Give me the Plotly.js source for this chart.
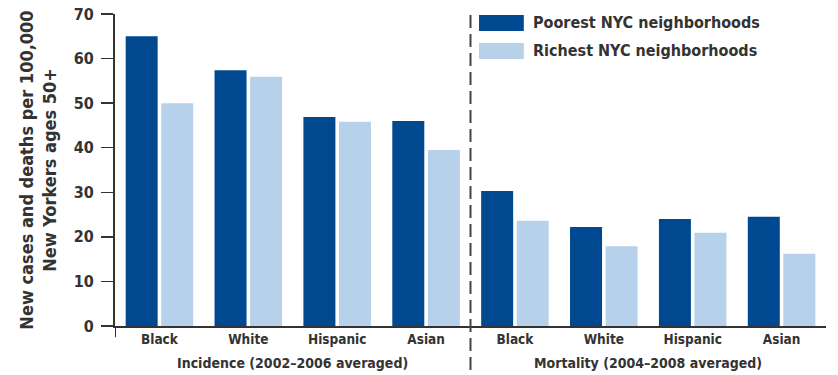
<!DOCTYPE html>
<html>
<head>
<meta charset="utf-8">
<script src="https://cdn.plot.ly/plotly-3.0.1.min.js"></script>
<style>html,body{margin:0;padding:0;background:#fff}</style>
</head>
<body>
<div id="chart" style="width:838px;height:375px"></div>
<script>
// Colorectal cancer rates by neighborhood income, NYC adults 50+
const measures = ["Incidence (2002–2006 averaged)", "Mortality (2004–2008 averaged)"];
const groups = ["Black", "White", "Hispanic", "Asian"];
const poorest = [65.0, 57.4, 46.9, 46.0, 30.3, 22.2, 24.0, 24.5];
const richest = [50.0, 55.9, 45.8, 39.5, 23.6, 17.9, 20.9, 16.2];
const seriesNames = ["Poorest NYC neighborhoods", "Richest NYC neighborhoods"];
const seriesColors = ["#004990", "#b7d1eb"];
const yTicks = [0, 10, 20, 30, 40, 50, 60, 70];

const FONT = "'Liberation Sans Narrow', 'DejaVu Sans Condensed', 'Roboto', sans-serif";
const INK = "#333333";

// one slot per (measure, group) pair
const pos = [];
const labels = [];
measures.forEach((m, mi) => groups.forEach((g, gi) => {
  pos.push(mi * groups.length + gi);
  labels.push("<b>" + g + "</b>");
}));
const nSlots = pos.length;
const bounds = [];
for (let i = 0; i <= nSlots; i++) bounds.push(i - 0.5);
const xRange = [-0.5, nSlots - 0.5];

const traces = [poorest, richest].map((vals, i) => ({
  type: "bar",
  x: pos,
  y: vals,
  name: seriesNames[i],
  marker: { color: seriesColors[i], line: { width: 0 } },
  hoverinfo: "y+name"
}));

// measure captions centred under each half, divider between halves
const annotations = measures.map((m, mi) => ({
  text: "<b>" + m + "</b>",
  x: mi * groups.length + (groups.length - 1) / 2,
  xref: "x", y: 0, yref: "paper",
  yshift: -37, yanchor: "middle", xanchor: "center",
  showarrow: false,
  font: { family: FONT, size: 14, color: INK }
}));

const shapes = [];
for (let mi = 1; mi < measures.length; mi++) {
  shapes.push({
    type: "line", xref: "x", yref: "paper",
    x0: mi * groups.length - 0.5, x1: mi * groups.length - 0.5,
    y0: -0.141, y1: 1.007,
    line: { color: "#444444", width: 2, dash: "13px,6px" }
  });
}
// y-axis line runs a little below the origin
shapes.push({
  type: "line", xref: "x", yref: "paper",
  x0: -0.5, x1: -0.5, y0: 0, y1: -0.036,
  line: { color: INK, width: 2 }
});

// legend: wide swatches with labels
const legendY = [[0.9455, 0.997], [0.856, 0.907]];
seriesNames.forEach((n, i) => {
  shapes.push({
    type: "rect", xref: "paper", yref: "paper",
    x0: 0.512, x1: 0.575, y0: legendY[i][0], y1: legendY[i][1],
    fillcolor: seriesColors[i], line: { width: 0 }
  });
  annotations.push({
    text: "<b>" + n + "</b>",
    xref: "paper", yref: "paper",
    x: 0.585, y: (legendY[i][0] + legendY[i][1]) / 2,
    xanchor: "left", yanchor: "middle", showarrow: false,
    font: { family: FONT, size: 16, color: INK }
  });
});

const layout = {
  width: 838, height: 375,
  margin: { l: 115, r: 12, t: 14, b: 49 },
  paper_bgcolor: "#ffffff", plot_bgcolor: "#ffffff",
  showlegend: false,
  barmode: "group", bargap: 0.2, bargroupgap: 0.1,
  font: { family: FONT, color: INK },
  xaxis: {
    range: xRange, tickmode: "array", tickvals: pos, ticktext: labels,
    ticks: "", showgrid: false, zeroline: false,
    showline: true, linecolor: INK, linewidth: 2,
    tickfont: { family: FONT, size: 13.5, color: INK },
    fixedrange: true
  },
  xaxis2: {
    overlaying: "x", anchor: "y", side: "bottom",
    range: xRange, tickmode: "array", tickvals: bounds,
    ticks: "outside", ticklen: 7, tickwidth: 2, tickcolor: INK,
    showticklabels: false, showgrid: false, zeroline: false, showline: false
  },
  yaxis: {
    range: [0, 70], tickmode: "array", tickvals: yTicks,
    ticktext: yTicks.map(v => "<b>" + v + "</b>"),
    ticks: "outside", ticklen: 12, tickwidth: 1.5, tickcolor: INK,
    showgrid: false, zeroline: false,
    showline: true, linecolor: INK, linewidth: 2,
    tickfont: { family: FONT, size: 16, color: INK },
    ticklabelstandoff: 4,
    title: {
      text: "<b>New cases and deaths per 100,000<br>New Yorkers ages 50+</b>",
      font: { family: FONT, size: 18, color: INK },
      standoff: 12
    },
    fixedrange: true
  },
  shapes: shapes,
  annotations: annotations
};

Plotly.newPlot("chart", traces, layout, { displayModeBar: false, staticPlot: true });
</script>
</body>
</html>
